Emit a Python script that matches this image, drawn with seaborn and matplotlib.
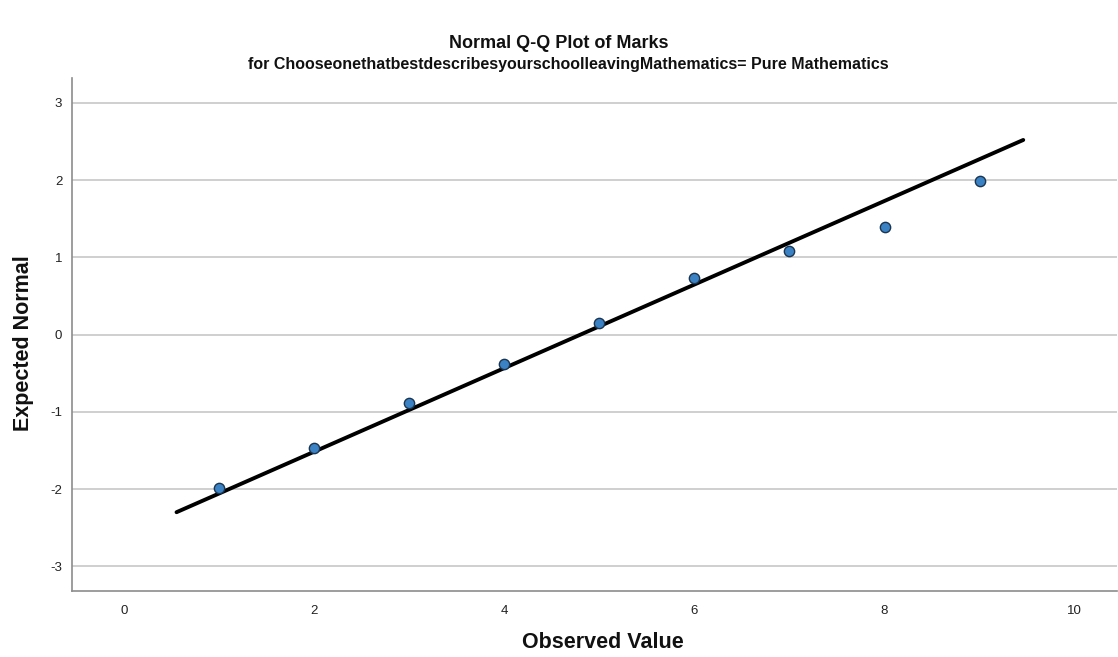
import matplotlib
matplotlib.use("Agg")
import matplotlib.pyplot as plt
import seaborn as sns
import pandas as pd

# Data
observed = [1, 2, 3, 4, 5, 6, 7, 8, 9]
expected = [-1.99, -1.475, -0.885, -0.385, 0.15, 0.735, 1.085, 1.395, 1.99]
ref_line_x = [0.55, 9.46]
ref_line_y = [-2.30, 2.52]
x_ticks = [0, 2, 4, 6, 8, 10]
y_ticks = [-3, -2, -1, 0, 1, 2, 3]

sns.set_theme(style="white")
plt.rcParams['font.family'] = ['Liberation Sans', 'DejaVu Sans']
plt.rcParams['axes.unicode_minus'] = False

fig = plt.figure(figsize=(11.18, 6.57), dpi=100)
ax = fig.add_axes([0.0644, 0.1005, 0.935, 0.7805])

df_pts = pd.DataFrame({"Observed Value": observed, "Expected Normal": expected})
df_line = pd.DataFrame({"x": ref_line_x, "y": ref_line_y})

sns.lineplot(data=df_line, x="x", y="y", ax=ax, color="black", linewidth=2.8, zorder=3)
sns.scatterplot(data=df_pts, x="Observed Value", y="Expected Normal", ax=ax,
                s=55, color="#3b82c4", edgecolor="#1a3550", linewidth=1.0, zorder=4)

ax.set_xlim(-0.55, 10.45)
ax.set_ylim(-3.32, 3.32)
ax.set_xticks(x_ticks)
ax.set_yticks(y_ticks)
ax.tick_params(axis='both', length=0, labelsize=9.5, colors="#222222")
ax.tick_params(axis='x', pad=10)
ax.tick_params(axis='y', pad=7)
ax.yaxis.grid(True, color="#cfcfcf", linewidth=1.4)
ax.xaxis.grid(False)
for s in ["top", "right"]:
    ax.spines[s].set_visible(False)
for s in ["left", "bottom"]:
    ax.spines[s].set_color("#8c8c8c")
    ax.spines[s].set_linewidth(1.2)

ax.set_xlabel("")
ax.set_ylabel("")
fig.text(603 / 1118, 1 - 643 / 657, "Observed Value", ha="center", va="center",
         fontsize=15.5, fontweight="bold", color="#111111")
fig.text(24 / 1118, 1 - 343 / 657, "Expected Normal", ha="center", va="center",
         rotation=90, fontsize=15.5, fontweight="bold", color="#111111")

fig.text(0.5, 1 - 44 / 657, "Normal Q-Q Plot of Marks", ha="center", va="center",
         fontsize=13, fontweight="bold", color="#111111")
fig.text(568 / 1118, 1 - 64 / 657,
         "for ChooseonethatbestdescribesyourschoolleavingMathematics= Pure Mathematics",
         ha="center", va="center", fontsize=11.5, fontweight="bold", color="#111111")

fig.savefig("out.png", dpi=100)
